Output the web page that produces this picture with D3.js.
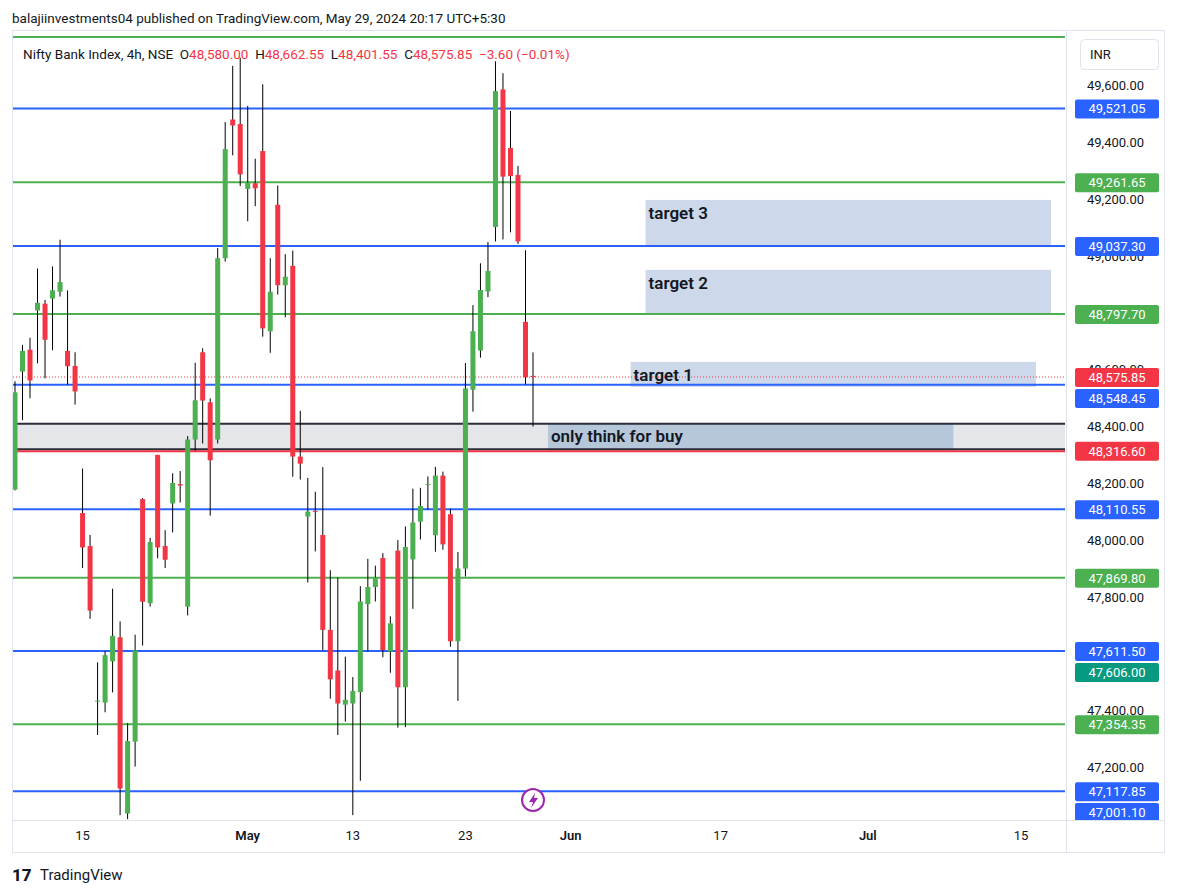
<!DOCTYPE html>
<html>
<head>
<meta charset="utf-8">
<script src="https://cdn.jsdelivr.net/npm/d3@7/dist/d3.min.js"></script>
<style>
  body { margin: 0; background: #fff; font-family: Roboto, "Liberation Sans", sans-serif; }
  svg text { font-family: Roboto, "Liberation Sans", sans-serif; }
</style>
</head>
<body>
<svg id="chart" width="1177" height="896"></svg>
<script>
// candles, 4h bars, oldest first: [open, high, low, close]
var ohlc = [
  [48180,48561,48177,48522],[48595,48689,48424,48668],[48672,48714,48501,48564],[48810,48958,48624,48837],
  [48834,48847,48571,48707],[48852,48965,48670,48881],[48876,49059,48859,48910],[48668,48881,48549,48614],
  [48615,48663,48479,48525],[48097,48254,47904,47976],[47981,48020,47725,47754],[47436,47572,47316,47437],
  [47430,47611,47396,47597],[47575,47831,47466,47665],[47660,47716,47034,47128],[47040,47358,47020,47295],
  [47293,47669,47205,47614],[48146,48150,47631,47785],[47780,48010,47768,47995],[48302,48302,47938,47976],
  [47981,48037,47904,47933],[48131,48237,48029,48203],[48199,48245,48134,48194],[47768,48368,47737,48356],
  [48356,48626,48317,48494],[48663,48677,48342,48493],[48487,48501,48088,48283],[48356,49030,48342,48994],
  [48994,49473,48982,49378],[49482,49671,49356,49461],[49466,49700,49248,49289],[49238,49530,49124,49260],
  [49258,49344,49177,49240],[49371,49606,48718,48747],[48737,48994,48661,48876],[49182,49250,48866,48899],
  [48899,49008,48786,48929],[48967,49021,48225,48296],[48296,48457,48215,48271],[48085,48221,47853,48102],
  [48105,48172,47962,48102],[48020,48259,47614,47686],[47686,47896,47444,47512],[47543,47870,47316,47427],
  [47423,47592,47363,47440],[47427,47520,47034,47471],[47467,47840,47155,47786],[47777,47936,47610,47837],
  [47837,47912,47786,47871],[47939,47956,47590,47615],[47610,47734,47535,47709],[47965,48002,47342,47484],
  [47484,48050,47344,47978],[47934,48183,47760,48064],[48067,48186,48004,48122],[48198,48226,48110,48199],
  [48019,48260,47961,48229],[48229,48243,47968,47987],[48093,48113,47627,47646],[47646,47960,47436,47902],
  [47902,48625,47874,48536],[48531,48829,48454,48737],[48669,48976,48644,48882],[48877,49051,48857,48949],
  [49104,49687,49053,49582],[49588,49645,49060,49281],[49382,49512,49085,49283],[49287,49319,49044,49053],
  [48770,49022,48550,48575],[48580,48662.55,48401.55,48575.85]
];

var dateTicks = [9, 31, 45, 60, 74, 94, 113.6, 134];
var dateLabels = ["15", "May", "13", "23", "Jun", "17", "Jul", "15"];
var dateBold = [false, true, false, false, true, false, true, false];

var priceTicks = [49600, 49400, 49200, 49000, 48600, 48400, 48200, 48000, 47800, 47400, 47200];

var blueLevels = [49521.05, 49037.30, 48548.45, 48110.55, 47611.50, 47117.85, 47001.10];
var greenLevels = [49772, 49261.65, 48797.70, 47869.80, 47354.35];
var greenLabeled = [49261.65, 48797.70, 47869.80, 47354.35];
var lastPrice = 48575.85;
var stopLevel = 48316.60;
var countdownPrice = 47606.00;
var zoneTop = 48411;

// [label, x from bar, x to bar, price top, price bottom]
var targets = [
  ["target 3", 84, 138, 49199, 49040],
  ["target 2", 84, 138, 48953, 48794],
  ["target 1", 82, 136, 48629, 48541]
];
var buyBox = ["only think for buy", 71, 125, zoneTop, stopLevel];

var svg = d3.select("#chart");
var plot = { left: 13, right: 1065, top: 30, bottom: 820 };

var x = d3.scaleLinear().domain([0, 69]).range([15, 533]);
var y = d3.scaleLinear().domain([47200, 49600]).range([768, 86]);

// frame
svg.append("rect").attr("x", 12.5).attr("y", 30.5).attr("width", 1152).attr("height", 822)
  .attr("fill", "none").attr("stroke", "#e0e3eb");
svg.append("line").attr("x1", 12.5).attr("x2", 1164.5).attr("y1", 820.5).attr("y2", 820.5).attr("stroke", "#e0e3eb");
svg.append("line").attr("x1", 1066.5).attr("x2", 1066.5).attr("y1", 30).attr("y2", 852).attr("stroke", "#e0e3eb");

var defs = svg.append("defs");
defs.append("clipPath").attr("id", "clip")
  .append("rect").attr("x", plot.left).attr("y", plot.top)
  .attr("width", plot.right - plot.left).attr("height", plot.bottom - plot.top);
defs.append("clipPath").attr("id", "axclip").append("rect")
  .attr("x", 1067).attr("y", 30).attr("width", 100).attr("height", 790);
var g = svg.append("g").attr("clip-path", "url(#clip)");

// grey zone
g.append("rect").attr("x", plot.left).attr("width", plot.right - plot.left)
  .attr("y", y(zoneTop)).attr("height", y(stopLevel) - y(zoneTop)).attr("fill", "#e4e6ea");
g.append("rect").attr("x", x(buyBox[1])).attr("width", x(buyBox[2]) - x(buyBox[1]))
  .attr("y", y(buyBox[3])).attr("height", y(buyBox[4]) - y(buyBox[3])).attr("fill", "#b7c7da");
g.append("line").attr("x1", plot.left).attr("x2", plot.right)
  .attr("y1", y(zoneTop)).attr("y2", y(zoneTop)).attr("stroke", "#2a2e39").attr("stroke-width", 2);
g.append("line").attr("x1", plot.left).attr("x2", plot.right)
  .attr("y1", y(stopLevel) - 1.5).attr("y2", y(stopLevel) - 1.5).attr("stroke", "#2a2e39").attr("stroke-width", 2);
g.append("line").attr("x1", plot.left).attr("x2", plot.right)
  .attr("y1", y(stopLevel) + 0.5).attr("y2", y(stopLevel) + 0.5).attr("stroke", "#f23645").attr("stroke-width", 2);

// target boxes
targets.forEach(function (t) {
  g.append("rect").attr("x", x(t[1])).attr("width", x(t[2]) - x(t[1]))
    .attr("y", y(t[3])).attr("height", y(t[4]) - y(t[3])).attr("fill", "#cdd9ea");
});

// levels
greenLevels.forEach(function (p) {
  g.append("line").attr("x1", plot.left).attr("x2", plot.right).attr("y1", y(p)).attr("y2", y(p))
    .attr("stroke", "#4caf50").attr("stroke-width", 2);
});
blueLevels.forEach(function (p) {
  g.append("line").attr("x1", plot.left).attr("x2", plot.right).attr("y1", y(p)).attr("y2", y(p))
    .attr("stroke", "#2962ff").attr("stroke-width", 2);
});
g.append("line").attr("x1", plot.left).attr("x2", plot.right).attr("y1", y(lastPrice)).attr("y2", y(lastPrice))
  .attr("stroke", "#f23645").attr("stroke-dasharray", "1,2");

// candles
var c = g.selectAll(".c").data(ohlc).join("g");
c.append("line").attr("x1", function (d, i) { return x(i); }).attr("x2", function (d, i) { return x(i); })
  .attr("y1", function (d) { return y(d[1]); }).attr("y2", function (d) { return y(d[2]); })
  .attr("stroke", "#000").attr("stroke-width", 1);
c.append("rect").attr("x", function (d, i) { return x(i) - 2.5; }).attr("width", 5)
  .attr("y", function (d) { return y(Math.max(d[0], d[3])); })
  .attr("height", function (d) { return Math.max(1, Math.abs(y(d[0]) - y(d[3]))); })
  .attr("fill", function (d) { return d[3] >= d[0] ? "#4caf50" : "#f23645"; });

// box texts
targets.forEach(function (t) {
  g.append("text").attr("x", x(t[1]) + 3).attr("y", y(t[3]) + 19).text(t[0])
    .attr("font-size", 17).attr("font-weight", 600).attr("fill", "#131722");
});
g.append("text").attr("x", x(buyBox[1]) + 3).attr("y", y(buyBox[3]) + 18).text(buyBox[0])
  .attr("font-size", 17).attr("font-weight", 600).attr("fill", "#131722");

// price axis
svg.selectAll(".pt").data(priceTicks).join("text")
  .attr("x", 1087).attr("y", function (d) { return y(d) + 4; })
  .attr("font-size", 13).attr("fill", "#131722").text(d3.format(",.2f"));

// price labels, pushed apart so they do not overlap
var labels = [];
blueLevels.forEach(function (p) { labels.push({ p: p, bg: "#2962ff" }); });
greenLabeled.forEach(function (p) { labels.push({ p: p, bg: "#4caf50" }); });
labels.push({ p: lastPrice, bg: "#f23645" });
labels.push({ p: stopLevel, bg: "#f23645" });
labels.push({ p: countdownPrice, bg: "#089981", after: true });
labels.forEach(function (l) { l.cy = Math.min(y(l.p), 812); });
labels.sort(function (a, b) { return a.cy - b.cy || (a.after ? 1 : 0) - (b.after ? 1 : 0); });
for (var i = 1; i < labels.length; i++) {
  if (labels[i].cy - labels[i - 1].cy < 21) labels[i].cy = labels[i - 1].cy + 21;
}
labels.forEach(function (l) { if (l.p < 47100) l.cy = 812; });
var lg = svg.append("g").attr("clip-path", "url(#axclip)");
labels.forEach(function (l) {
  lg.append("rect").attr("x", 1075).attr("y", l.cy - 9).attr("width", 84).attr("height", 19)
    .attr("rx", 2).attr("fill", l.bg);
  lg.append("text").attr("x", 1117).attr("y", l.cy + 5).attr("text-anchor", "middle")
    .attr("font-size", 13).attr("fill", "#fff").text(d3.format(",.2f")(l.p));
});

// INR box
svg.append("rect").attr("x", 1080.5).attr("y", 39.5).attr("width", 78).attr("height", 30).attr("rx", 4)
  .attr("fill", "#fff").attr("stroke", "#e0e3eb");
svg.append("text").attr("x", 1090).attr("y", 59).attr("font-size", 13).attr("fill", "#131722").text("INR");

// date axis
svg.selectAll(".dt").data(dateTicks).join("text")
  .attr("x", function (d) { return x(d); }).attr("y", 840).attr("text-anchor", "middle")
  .attr("font-size", 13).attr("fill", "#131722")
  .attr("font-weight", function (d, i) { return dateBold[i] ? 600 : 400; })
  .text(function (d, i) { return dateLabels[i]; });

// lightning marker
svg.append("circle").attr("cx", 533).attr("cy", 800).attr("r", 11).attr("fill", "#fff")
  .attr("stroke", "#9c27b0").attr("stroke-width", 2);
svg.append("path").attr("d", "M535,793 L529,802 L533,802 L531,808 L538,798 L534,798 Z").attr("fill", "#9c27b0");

// header
svg.append("text").attr("x", 12).attr("y", 23).attr("font-size", 13.5).attr("fill", "#131722")
  .text("balajiinvestments04 published on TradingView.com, May 29, 2024 20:17 UTC+5:30");
var leg = svg.append("text").attr("x", 23).attr("y", 59).attr("font-size", 13.5);
var parts = [["Nifty Bank Index, 4h, NSE  ", "#131722"], ["O", "#131722"], ["48,580.00  ", "#f23645"],
  ["H", "#131722"], ["48,662.55  ", "#f23645"], ["L", "#131722"], ["48,401.55  ", "#f23645"],
  ["C", "#131722"], ["48,575.85  \u22123.60 (\u22120.01%)", "#f23645"]];
parts.forEach(function (p) { leg.append("tspan").attr("fill", p[1]).attr("xml:space", "preserve").text(p[0]); });

// footer
svg.append("text").attr("x", 12).attr("y", 881).attr("font-size", 17).attr("font-weight", 800)
  .attr("fill", "#131722").text("17");
svg.append("text").attr("x", 40).attr("y", 880).attr("font-size", 15).attr("fill", "#131722").text("TradingView");
</script>
</body>
</html>
